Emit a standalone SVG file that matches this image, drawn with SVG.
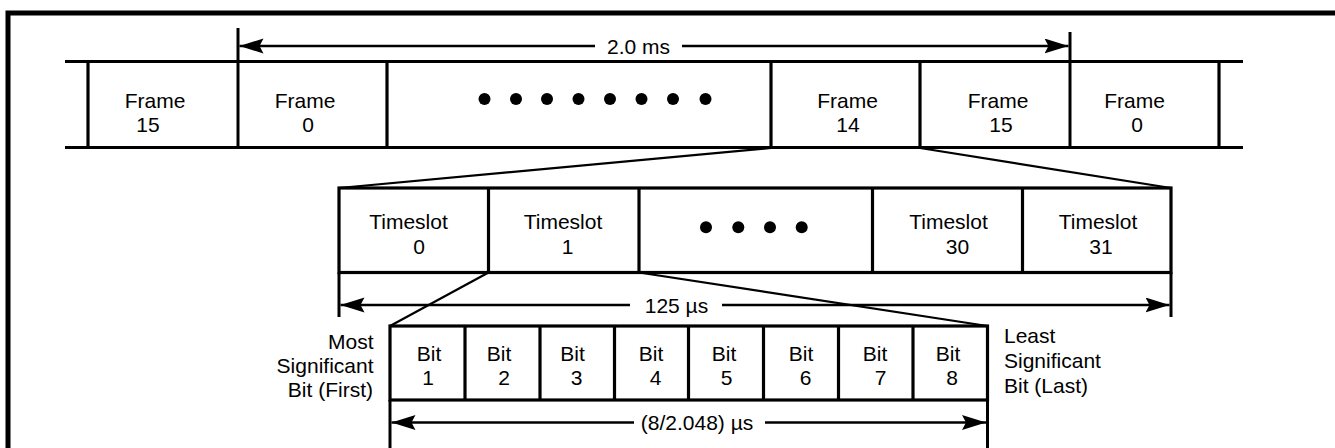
<svg xmlns="http://www.w3.org/2000/svg" width="1335" height="448" viewBox="0 0 1335 448">
  <style>
    text { font-family: "Liberation Sans", Arial, sans-serif; font-size: 21px; fill: #000; }
    .c { text-anchor: middle; }
    .r { text-anchor: end; }
    .box { fill: none; stroke: #000; stroke-width: 3.2; }
    .dim { fill: none; stroke: #000; stroke-width: 2.6; }
    .ext { fill: none; stroke: #000; stroke-width: 3; }
    .fan { fill: none; stroke: #000; stroke-width: 2.2; }
    .dot { fill: #000; }
  </style>
  <defs>
    <marker id="ah" markerUnits="userSpaceOnUse" markerWidth="26" markerHeight="16" refX="24" refY="7.5" orient="auto-start-reverse" viewBox="0 0 26 16">
      <path d="M0,0 L24,7.5 L0,15 L4,7.5 Z" fill="#000"/>
    </marker>
  </defs>

  <!-- outer border -->
  <path d="M8,448 V13 H1335" fill="none" stroke="#000" stroke-width="5"/>

  <!-- frame row -->
  <g id="frame-row">
    <line class="box" x1="65" y1="61.5" x2="1243" y2="61.5"/>
    <line class="box" x1="65" y1="147.5" x2="1243" y2="147.5"/>
    <line class="box" x1="88" y1="61.5" x2="88" y2="147.5"/>
    <line class="box" x1="387" y1="61.5" x2="387" y2="147.5"/>
    <line class="box" x1="771" y1="61.5" x2="771" y2="147.5"/>
    <line class="box" x1="920" y1="61.5" x2="920" y2="147.5"/>
    <line class="box" x1="1219" y1="61.5" x2="1219" y2="147.5"/>
  </g>
  <g id="frame-15a"><text class="c" x="155" y="108">Frame</text><text class="c" x="148" y="132">15</text></g>
  <g id="frame-0a"><text class="c" x="305" y="108">Frame</text><text class="c" x="308" y="132">0</text></g>
  <g id="frame-dots">
    <circle class="dot" cx="484.5" cy="99" r="6"/>
    <circle class="dot" cx="516" cy="99" r="6"/>
    <circle class="dot" cx="547" cy="99" r="6"/>
    <circle class="dot" cx="578.5" cy="99" r="6"/>
    <circle class="dot" cx="610" cy="99" r="6"/>
    <circle class="dot" cx="641.5" cy="99" r="6"/>
    <circle class="dot" cx="673" cy="99" r="6"/>
    <circle class="dot" cx="705.5" cy="99" r="6"/>
  </g>
  <g id="frame-14"><text class="c" x="847.5" y="108">Frame</text><text class="c" x="848" y="132">14</text></g>
  <g id="frame-15b"><text class="c" x="998" y="108">Frame</text><text class="c" x="1001" y="132">15</text></g>
  <g id="frame-0b"><text class="c" x="1134.5" y="108">Frame</text><text class="c" x="1137" y="132">0</text></g>

  <!-- timeslot row -->
  <g id="timeslot-row">
    <rect class="box" x="339" y="188" width="832" height="84.5"/>
    <line class="box" x1="488.5" y1="188" x2="488.5" y2="272.5"/>
    <line class="box" x1="639" y1="188" x2="639" y2="272.5"/>
    <line class="box" x1="872.5" y1="188" x2="872.5" y2="272.5"/>
    <line class="box" x1="1022.5" y1="188" x2="1022.5" y2="272.5"/>
  </g>
  <g id="timeslot-0"><text class="c" x="408.5" y="228.5">Timeslot</text><text class="c" x="419" y="253.5">0</text></g>
  <g id="timeslot-1"><text class="c" x="563" y="228.5">Timeslot</text><text class="c" x="567.5" y="253.5">1</text></g>
  <g id="timeslot-dots">
    <circle class="dot" cx="706" cy="227.3" r="6"/>
    <circle class="dot" cx="738.3" cy="227.3" r="6"/>
    <circle class="dot" cx="770" cy="227.3" r="6"/>
    <circle class="dot" cx="801.7" cy="227.3" r="6"/>
  </g>
  <g id="timeslot-30"><text class="c" x="948.5" y="228.5">Timeslot</text><text class="c" x="957.5" y="253.5">30</text></g>
  <g id="timeslot-31"><text class="c" x="1098" y="228.5">Timeslot</text><text class="c" x="1101" y="253.5">31</text></g>

  <!-- bit row -->
  <g id="bit-row">
    <rect class="box" x="390" y="326" width="597.5" height="74"/>
    <line class="box" x1="465" y1="326" x2="465" y2="400"/>
    <line class="box" x1="540" y1="326" x2="540" y2="400"/>
    <line class="box" x1="614.5" y1="326" x2="614.5" y2="400"/>
    <line class="box" x1="688.5" y1="326" x2="688.5" y2="400"/>
    <line class="box" x1="763.5" y1="326" x2="763.5" y2="400"/>
    <line class="box" x1="838.5" y1="326" x2="838.5" y2="400"/>
    <line class="box" x1="913" y1="326" x2="913" y2="400"/>
  </g>
  <g id="bit-1"><text class="c" x="429" y="360.5">Bit</text><text class="c" x="428" y="385">1</text></g>
  <g id="bit-2"><text class="c" x="499" y="360.5">Bit</text><text class="c" x="504" y="385">2</text></g>
  <g id="bit-3"><text class="c" x="572.5" y="360.5">Bit</text><text class="c" x="576.5" y="385">3</text></g>
  <g id="bit-4"><text class="c" x="651" y="360.5">Bit</text><text class="c" x="655.5" y="385">4</text></g>
  <g id="bit-5"><text class="c" x="724" y="360.5">Bit</text><text class="c" x="726.5" y="385">5</text></g>
  <g id="bit-6"><text class="c" x="801" y="360.5">Bit</text><text class="c" x="805.5" y="385">6</text></g>
  <g id="bit-7"><text class="c" x="875" y="360.5">Bit</text><text class="c" x="880.5" y="385">7</text></g>
  <g id="bit-8"><text class="c" x="948" y="360.5">Bit</text><text class="c" x="952" y="385">8</text></g>

  <g id="msb-label">
    <text class="r" x="373.5" y="348.5">Most</text>
    <text class="r" x="373.5" y="372.5">Significant</text>
    <text class="r" x="373" y="396.5">Bit (First)</text>
  </g>
  <g id="lsb-label">
    <text x="1004" y="342.5">Least</text>
    <text x="1004" y="368">Significant</text>
    <text x="1004" y="393">Bit (Last)</text>
  </g>

  <!-- connectors -->
  <g id="connectors">
    <!-- fan lines -->
    <line class="fan" x1="771" y1="148" x2="339" y2="188"/>
    <line class="fan" x1="920" y1="148" x2="1171" y2="188"/>
    <line class="fan" x1="488.5" y1="272.5" x2="390" y2="326"/>
    <line class="fan" x1="639" y1="272.5" x2="987.5" y2="326"/>

    <!-- 2.0 ms -->
    <line class="ext" x1="238" y1="28" x2="238" y2="147.5"/>
    <line class="ext" x1="1070" y1="32" x2="1070" y2="147.5"/>
    <line class="dim" x1="595" y1="46" x2="239.5" y2="46" marker-end="url(#ah)"/>
    <line class="dim" x1="682" y1="46" x2="1068.5" y2="46" marker-end="url(#ah)"/>
    <text id="dim-2ms" class="c" x="638.5" y="53.5">2.0 ms</text>

    <!-- 125 us -->
    <line class="ext" x1="339" y1="272.5" x2="339" y2="317"/>
    <line class="ext" x1="1171" y1="272.5" x2="1171" y2="317"/>
    <line class="dim" x1="630" y1="305" x2="340.5" y2="305" marker-end="url(#ah)"/>
    <line class="dim" x1="722" y1="305" x2="1169.5" y2="305" marker-end="url(#ah)"/>
    <text id="dim-125us" class="c" x="676.5" y="312.5">125 µs</text>

    <!-- (8/2.048) us -->
    <line class="ext" x1="390" y1="400" x2="390" y2="448"/>
    <line class="ext" x1="987.5" y1="400" x2="987.5" y2="448"/>
    <line class="dim" x1="634" y1="422.5" x2="391.5" y2="422.5" marker-end="url(#ah)"/>
    <line class="dim" x1="765" y1="422.5" x2="986" y2="422.5" marker-end="url(#ah)"/>
    <text id="dim-bit" class="c" x="697" y="430">(8/2.048) µs</text>
  </g>
</svg>
